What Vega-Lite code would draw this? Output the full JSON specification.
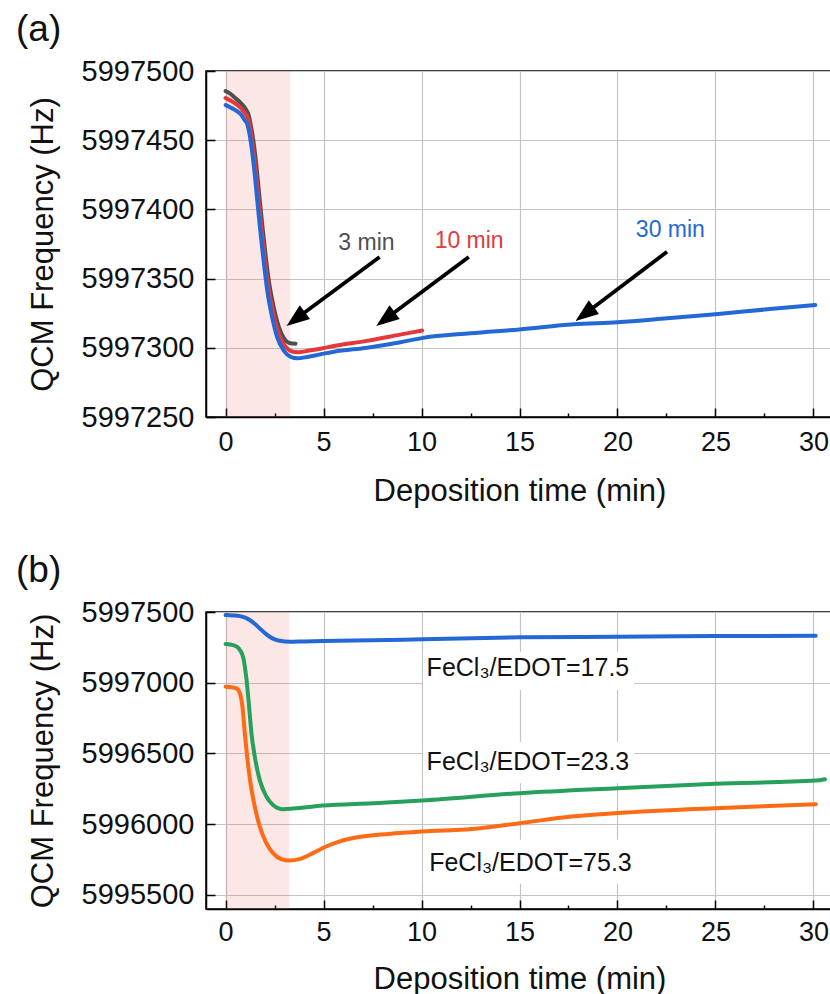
{
  "$schema": "https://vega.github.io/schema/vega-lite/v6.json",
  "background": "white",
  "padding": {"left": 15, "top": 10, "right": 0, "bottom": 0},
  "spacing": 44,
  "resolve": {"scale": {"color": "independent"}},
  "config": {
    "font": "Liberation Sans",
    "view": {"stroke": "black", "strokeWidth": 1.5},
    "axis": {
      "domainColor": "black", "domainWidth": 1.5, "tickColor": "black", "tickWidth": 1.5,
      "gridColor": "#c4c4c4", "gridWidth": 1.2,
      "labelColor": "#111111", "titleColor": "#111111", "titleFontWeight": "normal",
      "labelFont": "Liberation Sans", "titleFont": "Liberation Sans"
    },
    "title": {"font": "Liberation Sans", "fontWeight": "normal", "color": "#111111"}
  },
  "vconcat": [
    {
      "width": 627,
      "height": 346,
      "title": {"text": "(a)", "anchor": "start", "frame": "group", "dx": -190, "fontSize": 37, "offset": 8},
      "layer": [
        {
          "data": {"values": [{"t": 0, "t2": 3.3}]},
          "mark": {"type": "rect", "color": "#e86060", "opacity": 0.15},
          "encoding": {
            "x": {"field": "t", "type": "quantitative", "title": "Deposition time (min)"},
            "x2": {"field": "t2"}
          }
        },
        {
          "data": {"values": [
            {"series": "3 min", "t": 0, "f": 5997485.5}, {"series": "3 min", "t": 0.2, "f": 5997484}, {"series": "3 min", "t": 0.45, "f": 5997481}, {"series": "3 min", "t": 0.8, "f": 5997476.5}, {"series": "3 min", "t": 1.05, "f": 5997472}, {"series": "3 min", "t": 1.18, "f": 5997468}, {"series": "3 min", "t": 1.27, "f": 5997462}, {"series": "3 min", "t": 1.36, "f": 5997455}, {"series": "3 min", "t": 1.53, "f": 5997437}, {"series": "3 min", "t": 1.7, "f": 5997413}, {"series": "3 min", "t": 1.87, "f": 5997389}, {"series": "3 min", "t": 2.04, "f": 5997367}, {"series": "3 min", "t": 2.21, "f": 5997348}, {"series": "3 min", "t": 2.46, "f": 5997329}, {"series": "3 min", "t": 2.72, "f": 5997315}, {"series": "3 min", "t": 3.0, "f": 5997306.5}, {"series": "3 min", "t": 3.25, "f": 5997303.5}, {"series": "3 min", "t": 3.57, "f": 5997303},
            {"series": "10 min", "t": 0, "f": 5997480.5}, {"series": "10 min", "t": 0.2, "f": 5997479}, {"series": "10 min", "t": 0.45, "f": 5997477}, {"series": "10 min", "t": 0.8, "f": 5997473}, {"series": "10 min", "t": 1.03, "f": 5997468.5}, {"series": "10 min", "t": 1.15, "f": 5997465.5}, {"series": "10 min", "t": 1.24, "f": 5997460}, {"series": "10 min", "t": 1.32, "f": 5997453}, {"series": "10 min", "t": 1.49, "f": 5997434}, {"series": "10 min", "t": 1.66, "f": 5997410}, {"series": "10 min", "t": 1.83, "f": 5997386}, {"series": "10 min", "t": 2.0, "f": 5997364}, {"series": "10 min", "t": 2.17, "f": 5997345}, {"series": "10 min", "t": 2.42, "f": 5997326}, {"series": "10 min", "t": 2.68, "f": 5997311.5}, {"series": "10 min", "t": 3.02, "f": 5997301.5}, {"series": "10 min", "t": 3.36, "f": 5997297.5}, {"series": "10 min", "t": 3.7, "f": 5997296.8}, {"series": "10 min", "t": 4.2, "f": 5997297.8}, {"series": "10 min", "t": 4.9, "f": 5997299.5}, {"series": "10 min", "t": 5.6, "f": 5997301.5}, {"series": "10 min", "t": 7.2, "f": 5997305}, {"series": "10 min", "t": 8.9, "f": 5997309.5}, {"series": "10 min", "t": 10.03, "f": 5997312.5},
            {"series": "30 min", "t": 0, "f": 5997475.4}, {"series": "30 min", "t": 0.2, "f": 5997474}, {"series": "30 min", "t": 0.43, "f": 5997472.3}, {"series": "30 min", "t": 0.77, "f": 5997468.7}, {"series": "30 min", "t": 1.0, "f": 5997464}, {"series": "30 min", "t": 1.11, "f": 5997461.5}, {"series": "30 min", "t": 1.2, "f": 5997456}, {"series": "30 min", "t": 1.28, "f": 5997449.4}, {"series": "30 min", "t": 1.45, "f": 5997430.2}, {"series": "30 min", "t": 1.62, "f": 5997406.1}, {"series": "30 min", "t": 1.79, "f": 5997382}, {"series": "30 min", "t": 1.96, "f": 5997360.3}, {"series": "30 min", "t": 2.13, "f": 5997341}, {"series": "30 min", "t": 2.38, "f": 5997321.8}, {"series": "30 min", "t": 2.64, "f": 5997307.3}, {"series": "30 min", "t": 2.98, "f": 5997297.7}, {"series": "30 min", "t": 3.32, "f": 5997293.4}, {"series": "30 min", "t": 3.66, "f": 5997292.4}, {"series": "30 min", "t": 4.17, "f": 5997293.4}, {"series": "30 min", "t": 4.85, "f": 5997295.3}, {"series": "30 min", "t": 5.53, "f": 5997297.2}, {"series": "30 min", "t": 7.23, "f": 5997300.1}, {"series": "30 min", "t": 8.93, "f": 5997304}, {"series": "30 min", "t": 10, "f": 5997307}, {"series": "30 min", "t": 12.5, "f": 5997310.5}, {"series": "30 min", "t": 15, "f": 5997313.3}, {"series": "30 min", "t": 17.77, "f": 5997317}, {"series": "30 min", "t": 20, "f": 5997318.5}, {"series": "30 min", "t": 22.53, "f": 5997321.3}, {"series": "30 min", "t": 25, "f": 5997324.2}, {"series": "30 min", "t": 27.64, "f": 5997327.8}, {"series": "30 min", "t": 30.1, "f": 5997330.9}
          ]},
          "mark": {"type": "line", "strokeWidth": 4, "interpolate": "monotone", "strokeCap": "round"},
          "encoding": {
            "x": {
              "field": "t", "type": "quantitative",
              "scale": {"domain": [-1, 31], "nice": false, "zero": false},
              "axis": {
                "title": "Deposition time (min)",
                "values": [0, 2.5, 5, 7.5, 10, 12.5, 15, 17.5, 20, 22.5, 25, 27.5, 30],
                "labelExpr": "datum.value % 5 === 0 ? datum.label : ''",
                "labelFontSize": 27, "titleFontSize": 31, "labelOverlap": false, "labelFlush": false,
                "tickSize": {"condition": {"test": "datum.value % 5 !== 0", "value": -4}, "value": -9},
                "gridOpacity": {"condition": {"test": "datum.value % 5 !== 0", "value": 0}, "value": 1},
                "labelPadding": 21, "titlePadding": 16
              }
            },
            "y": {
              "field": "f", "type": "quantitative",
              "scale": {"domain": [5997250, 5997500], "nice": false, "zero": false},
              "axis": {
                "title": "QCM Frequency (Hz)",
                "format": "d",
                "values": [5997250, 5997275, 5997300, 5997325, 5997350, 5997375, 5997400, 5997425, 5997450, 5997475, 5997500],
                "labelExpr": "datum.value % 50 === 0 ? datum.label : ''",
                "labelFontSize": 29, "titleFontSize": 31, "labelOverlap": false, "labelFlush": false,
                "tickSize": {"condition": {"test": "datum.value % 50 !== 0", "value": -4}, "value": -9},
                "gridOpacity": {"condition": {"test": "datum.value % 50 !== 0", "value": 0}, "value": 1},
                "labelPadding": 21, "titlePadding": 22
              }
            },
            "color": {
              "field": "series", "type": "nominal", "legend": null,
              "scale": {"domain": ["3 min", "10 min", "30 min"], "range": ["#4f4f4f", "#e5383b", "#2468d6"]}
            },
            "order": {"field": "t", "type": "quantitative"}
          }
        },
        {
          "data": {"values": [
            {"t": 7.86, "f": 5997365.6, "t2": 3.6, "f2": 5997321.0},
            {"t": 12.41, "f": 5997365.6, "t2": 8.18, "f2": 5997321.0},
            {"t": 22.53, "f": 5997369.4, "t2": 18.35, "f2": 5997324.6}
          ]},
          "mark": {"type": "rule", "color": "black", "strokeWidth": 3.8},
          "encoding": {
            "x": {"field": "t", "type": "quantitative", "title": "Deposition time (min)"},
            "y": {"field": "f", "type": "quantitative", "title": "QCM Frequency (Hz)"},
            "x2": {"field": "t2"},
            "y2": {"field": "f2"}
          }
        },
        {
          "data": {"values": [
            {"t": 3.11, "f": 5997315.8},
            {"t": 7.69, "f": 5997315.8},
            {"t": 17.86, "f": 5997319.4}
          ]},
          "mark": {"type": "point", "shape": "M0,0L0.37,1L-0.37,1Z", "angle": 233, "size": 2116, "filled": true, "color": "black", "opacity": 1, "strokeWidth": 0},
          "encoding": {
            "x": {"field": "t", "type": "quantitative", "title": "Deposition time (min)"},
            "y": {"field": "f", "type": "quantitative", "title": "QCM Frequency (Hz)"}
          }
        },
        {
          "data": {"values": [
            {"series": "3 min", "t": 7.19, "f": 5997375.7},
            {"series": "10 min", "t": 12.43, "f": 5997377.2},
            {"series": "30 min", "t": 22.7, "f": 5997385.1}
          ]},
          "mark": {"type": "text", "fontSize": 23, "align": "center", "baseline": "middle"},
          "encoding": {
            "x": {"field": "t", "type": "quantitative", "title": "Deposition time (min)"},
            "y": {"field": "f", "type": "quantitative", "title": "QCM Frequency (Hz)"},
            "text": {"field": "series"},
            "color": {"field": "series", "type": "nominal", "legend": null}
          }
        }
      ]
    },
    {
      "width": 627,
      "height": 297,
      "title": {"text": "(b)", "anchor": "start", "frame": "group", "dx": -190, "fontSize": 37, "offset": 8},
      "layer": [
        {
          "data": {"values": [{"t": 0, "t2": 3.25}]},
          "mark": {"type": "rect", "color": "#e86060", "opacity": 0.15},
          "encoding": {
            "x": {"field": "t", "type": "quantitative", "title": "Deposition time (min)"},
            "x2": {"field": "t2"}
          }
        },
        {
          "data": {"values": [
            {"t": 10.08, "t2": 20.85, "f": 5996948, "f2": 5997219},
            {"t": 10.08, "t2": 20.85, "f": 5996290, "f2": 5996583},
            {"t": 10.08, "t2": 20.85, "f": 5995578, "f2": 5995889}
          ]},
          "mark": {"type": "rect", "color": "white", "opacity": 1},
          "encoding": {
            "x": {"field": "t", "type": "quantitative", "title": "Deposition time (min)"},
            "x2": {"field": "t2"},
            "y": {"field": "f", "type": "quantitative", "title": "QCM Frequency (Hz)"},
            "y2": {"field": "f2"}
          }
        },
        {
          "data": {"values": [
            {"series": "17.5", "t": 0, "f": 5997478}, {"series": "17.5", "t": 0.4, "f": 5997476}, {"series": "17.5", "t": 0.73, "f": 5997471}, {"series": "17.5", "t": 1.0, "f": 5997460}, {"series": "17.5", "t": 1.23, "f": 5997443}, {"series": "17.5", "t": 1.5, "f": 5997415}, {"series": "17.5", "t": 1.74, "f": 5997384}, {"series": "17.5", "t": 2.0, "f": 5997352}, {"series": "17.5", "t": 2.25, "f": 5997325}, {"series": "17.5", "t": 2.5, "f": 5997307}, {"series": "17.5", "t": 2.76, "f": 5997297}, {"series": "17.5", "t": 3.27, "f": 5997290}, {"series": "17.5", "t": 4.0, "f": 5997292}, {"series": "17.5", "t": 4.96, "f": 5997294.5}, {"series": "17.5", "t": 7.5, "f": 5997300}, {"series": "17.5", "t": 10.04, "f": 5997306.5}, {"series": "17.5", "t": 15.03, "f": 5997320.6}, {"series": "17.5", "t": 20.02, "f": 5997325}, {"series": "17.5", "t": 25.0, "f": 5997329.8}, {"series": "17.5", "t": 30.12, "f": 5997332},
            {"series": "23.3", "t": 0, "f": 5997273}, {"series": "23.3", "t": 0.39, "f": 5997266}, {"series": "23.3", "t": 0.6, "f": 5997252}, {"series": "23.3", "t": 0.73, "f": 5997231}, {"series": "23.3", "t": 0.85, "f": 5997200}, {"series": "23.3", "t": 0.93, "f": 5997160}, {"series": "23.3", "t": 1.0, "f": 5997095}, {"series": "23.3", "t": 1.07, "f": 5997019}, {"series": "23.3", "t": 1.2, "f": 5996830}, {"series": "23.3", "t": 1.32, "f": 5996643}, {"series": "23.3", "t": 1.49, "f": 5996477}, {"series": "23.3", "t": 1.74, "f": 5996313}, {"series": "23.3", "t": 2.08, "f": 5996195}, {"series": "23.3", "t": 2.42, "f": 5996136}, {"series": "23.3", "t": 2.93, "f": 5996106}, {"series": "23.3", "t": 3.44, "f": 5996110}, {"series": "23.3", "t": 4.96, "f": 5996131}, {"series": "23.3", "t": 7.5, "f": 5996148}, {"series": "23.3", "t": 10.04, "f": 5996167}, {"series": "23.3", "t": 15.03, "f": 5996219}, {"series": "23.3", "t": 20.02, "f": 5996254}, {"series": "23.3", "t": 25.0, "f": 5996285}, {"series": "23.3", "t": 30.12, "f": 5996308}, {"series": "23.3", "t": 30.59, "f": 5996318},
            {"series": "75.3", "t": 0, "f": 5996972}, {"series": "75.3", "t": 0.3, "f": 5996968}, {"series": "75.3", "t": 0.56, "f": 5996960}, {"series": "75.3", "t": 0.73, "f": 5996925}, {"series": "75.3", "t": 0.86, "f": 5996830}, {"series": "75.3", "t": 0.98, "f": 5996643}, {"series": "75.3", "t": 1.1, "f": 5996477}, {"series": "75.3", "t": 1.27, "f": 5996290}, {"series": "75.3", "t": 1.49, "f": 5996124}, {"series": "75.3", "t": 1.74, "f": 5995983}, {"series": "75.3", "t": 2.08, "f": 5995866}, {"series": "75.3", "t": 2.42, "f": 5995795}, {"series": "75.3", "t": 2.84, "f": 5995753}, {"series": "75.3", "t": 3.26, "f": 5995743}, {"series": "75.3", "t": 3.77, "f": 5995753}, {"series": "75.3", "t": 4.45, "f": 5995795}, {"series": "75.3", "t": 5.13, "f": 5995842}, {"series": "75.3", "t": 5.8, "f": 5995877}, {"series": "75.3", "t": 6.65, "f": 5995905}, {"series": "75.3", "t": 8.34, "f": 5995931}, {"series": "75.3", "t": 10.04, "f": 5995948}, {"series": "75.3", "t": 12.57, "f": 5995965}, {"series": "75.3", "t": 15.03, "f": 5996007}, {"series": "75.3", "t": 17.65, "f": 5996054}, {"series": "75.3", "t": 20.02, "f": 5996078}, {"series": "75.3", "t": 25.0, "f": 5996113}, {"series": "75.3", "t": 30.12, "f": 5996141}
          ]},
          "mark": {"type": "line", "strokeWidth": 4, "interpolate": "monotone", "strokeCap": "round"},
          "encoding": {
            "x": {
              "field": "t", "type": "quantitative",
              "scale": {"domain": [-1, 31], "nice": false, "zero": false},
              "axis": {
                "title": "Deposition time (min)",
                "values": [0, 2.5, 5, 7.5, 10, 12.5, 15, 17.5, 20, 22.5, 25, 27.5, 30],
                "labelExpr": "datum.value % 5 === 0 ? datum.label : ''",
                "labelFontSize": 27, "titleFontSize": 31, "labelOverlap": false, "labelFlush": false,
                "tickSize": {"condition": {"test": "datum.value % 5 !== 0", "value": -4}, "value": -9},
                "gridOpacity": {"condition": {"test": "datum.value % 5 !== 0", "value": 0}, "value": 1},
                "labelPadding": 19, "titlePadding": 14
              }
            },
            "y": {
              "field": "f", "type": "quantitative",
              "scale": {"domain": [5995400, 5997500], "nice": false, "zero": false},
              "axis": {
                "title": "QCM Frequency (Hz)",
                "format": "d",
                "values": [5995500, 5995750, 5996000, 5996250, 5996500, 5996750, 5997000, 5997250, 5997500],
                "labelExpr": "datum.value % 500 === 0 ? datum.label : ''",
                "labelFontSize": 29, "titleFontSize": 31, "labelOverlap": false, "labelFlush": false,
                "tickSize": {"condition": {"test": "datum.value % 500 !== 0", "value": -4}, "value": -9},
                "gridOpacity": {"condition": {"test": "datum.value % 500 !== 0", "value": 0}, "value": 1},
                "labelPadding": 21, "titlePadding": 22
              }
            },
            "color": {
              "field": "series", "type": "nominal", "legend": null,
              "scale": {"domain": ["17.5", "23.3", "75.3"], "range": ["#2468d6", "#27a05c", "#ff6a14"]}
            },
            "order": {"field": "t", "type": "quantitative"}
          }
        },
        {
          "data": {"values": [
            {"label": "FeCl₃/EDOT=17.5", "t": 15.43, "f": 5997104},
            {"label": "FeCl₃/EDOT=23.3", "t": 15.43, "f": 5996442},
            {"label": "FeCl₃/EDOT=75.3", "t": 15.56, "f": 5995725}
          ]},
          "mark": {"type": "text", "fontSize": 25, "align": "center", "baseline": "middle", "color": "#111111"},
          "encoding": {
            "x": {"field": "t", "type": "quantitative", "title": "Deposition time (min)"},
            "y": {"field": "f", "type": "quantitative", "title": "QCM Frequency (Hz)"},
            "text": {"field": "label"}
          }
        }
      ]
    }
  ]
}
